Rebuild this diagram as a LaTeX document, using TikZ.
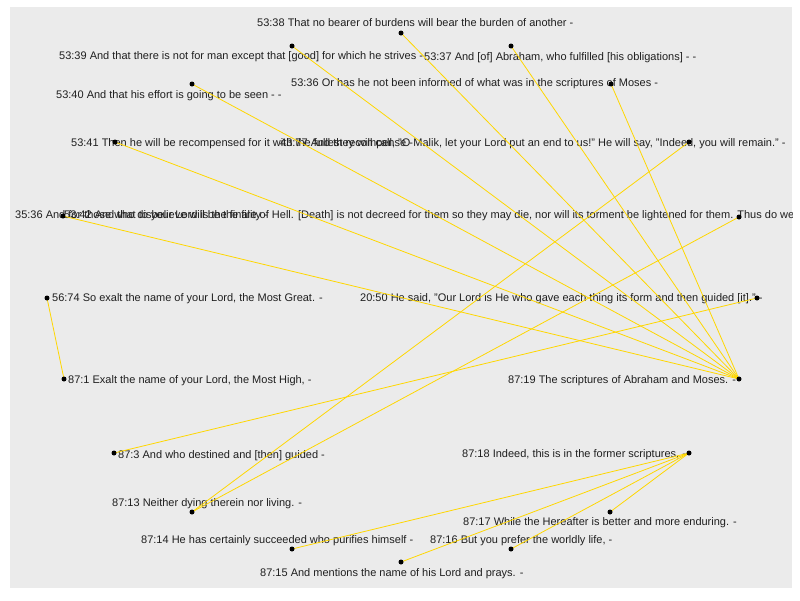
\documentclass[tikz,border=0pt]{standalone}
\usepackage{fontspec}
\setmainfont{Liberation Sans}
\pgfdeclarelayer{back}
\pgfdeclarelayer{txt}
\pgfdeclarelayer{bg}
\pgfsetlayers{back,txt,bg,main}
\definecolor{panel}{HTML}{EBEBEB}
\definecolor{edgecol}{HTML}{FFD700}
\tikzset{
  dot/.style={circle, fill=black, inner sep=0pt, minimum size=5pt},
  lbl/.style={anchor=west, inner sep=0pt, font=\fontsize{11}{13}\selectfont, text=black!88},
  edge/.style={draw=edgecol, line width=0.8pt},
}
\begin{document}
\begin{tikzpicture}[x=1pt, y=-1pt]
\useasboundingbox (0,0) rectangle (800,600);
\begin{pgfonlayer}{back}
\fill[panel] (10,7) rectangle (792,588);
\end{pgfonlayer}
% labels
\begin{pgfonlayer}{txt}
\begin{scope}
\clip (10,7) rectangle (792,588);
\node[lbl] (t5338) at (257,23) {53:38 That no bearer of burdens will bear the burden of another -};
\node[lbl] (t5339) at (59,57) {53:39 And that there is not for man except that [good] for which he strives -};
\node[lbl] (t5337) at (424,58) {53:37 And [of] Abraham, who fulfilled [his obligations] - -};
\node[lbl] (t5336) at (291,84) {53:36 Or has he not been informed of what was in the scriptures of Moses -};
\node[lbl] (t5340) at (56,96) {53:40 And that his effort is going to be seen - -};
\node[lbl] (t5341) at (71,144) {53:41 Then he will be recompensed for it with the fullest recompense -};
\node[lbl] (t4377) at (280,144) {43:77 And they will call, "O Malik, let your Lord put an end to us!" He will say, "Indeed, you will remain." -};
\node[lbl] (t3536) at (15,216) {35:36 And for those who disbelieve will be the fire of Hell. [Death] is not decreed for them so they may die, nor will its torment be lightened for them. Thus do we recompense every ungrateful one. -};
\node[lbl] (t5342) at (64,216) {53:42 And that to your Lord is the finality -};
\node[lbl] (t5674) at (52,299) {56:74 So exalt the name of your Lord, the Most Great. -};
\node[lbl] (t2050) at (360,299) {20:50 He said, "Our Lord is He who gave each thing its form and then guided [it]." -};
\node[lbl] (t871) at (68,381) {87:1 Exalt the name of your Lord, the Most High, -};
\node[lbl] (t8719) at (508,381) {87:19 The scriptures of Abraham and Moses. -};
\node[lbl] (t873) at (118,456) {87:3 And who destined and [then] guided -};
\node[lbl] (t8718) at (462,455) {87:18 Indeed, this is in the former scriptures, -};
\node[lbl] (t8713) at (112,504) {87:13 Neither dying therein nor living. -};
\node[lbl] (t8717) at (463,523) {87:17 While the Hereafter is better and more enduring. -};
\node[lbl] (t8714) at (141,541) {87:14 He has certainly succeeded who purifies himself -};
\node[lbl] (t8716) at (430,541) {87:16 But you prefer the worldly life, -};
\node[lbl] (t8715) at (260,574) {87:15 And mentions the name of his Lord and prays. -};
\end{scope}
\end{pgfonlayer}
% dots
\node[dot] (a5338) at (401,33) {};
\node[dot] (a5339) at (292,46) {};
\node[dot] (a5337) at (511,46) {};
\node[dot] (a5336) at (611,84) {};
\node[dot] (a5340) at (192,84) {};
\node[dot] (a5341) at (115,142) {};
\node[dot] (a4377) at (689,142) {};
\node[dot] (a5342) at (63,216) {};
\node[dot] (a3536) at (739,217) {};
\node[dot] (a5674) at (47,298) {};
\node[dot] (a2050) at (757,298) {};
\node[dot] (a871) at (64,379) {};
\node[dot] (a8719) at (739,379) {};
\node[dot] (a873) at (114,453) {};
\node[dot] (a8718) at (689,453) {};
\node[dot] (a8713) at (192,512) {};
\node[dot] (a8717) at (610,512) {};
\node[dot] (a8714) at (292,549) {};
\node[dot] (a8716) at (511,549) {};
\node[dot] (a8715) at (401,562) {};
% edges
\begin{pgfonlayer}{bg}
\foreach \s in {a5338,a5339,a5337,a5336,a5340,a5341,a5342}
  \draw[edge] (\s.center) -- (a8719.center);
\draw[edge] (a5674.center) -- (a871.center);
\draw[edge] (a2050.center) -- (a873.center);
\draw[edge] (a8713.center) -- (a4377.center);
\draw[edge] (a8713.center) -- (a3536.center);
\foreach \s in {a8714,a8715,a8716,a8717}
  \draw[edge] (a8718.center) -- (\s.center);
\end{pgfonlayer}
\end{tikzpicture}
\end{document}
